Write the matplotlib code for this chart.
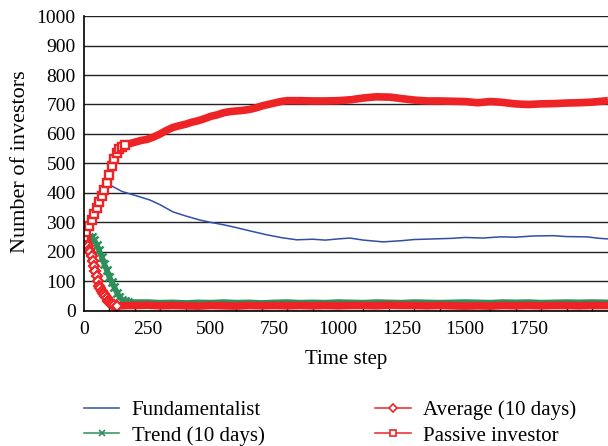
import matplotlib
matplotlib.use("Agg")
import matplotlib.pyplot as plt
from matplotlib.ticker import MultipleLocator, FixedLocator

plt.rcParams['font.family'] = ['Liberation Serif', 'DejaVu Serif']

# values
fund_t = [0, 50, 100, 150, 200, 260, 300, 350, 400, 457, 500, 550, 587, 650, 720, 780,
          838, 900, 950, 1000, 1047, 1100, 1178, 1250, 1300, 1375, 1450, 1500, 1570,
          1638, 1700, 1768, 1847, 1900, 1980, 2030, 2063]
fund_v = [250, 340, 428, 405, 392, 376, 360, 336, 322, 308, 300, 292, 285, 272, 258, 248,
          241, 243, 240, 244, 247, 240, 234, 238, 242, 244, 246, 249, 247,
          251, 250, 254, 255, 252, 251, 246, 244]

trend_t = [0, 10, 20, 30, 40, 50, 60, 70, 80, 90, 100, 110, 120, 130, 140, 150, 160,
           175, 200, 250, 300, 350, 400, 450, 500, 550, 600, 650, 700, 750, 800, 850,
           900, 950, 1000, 1050, 1100, 1150, 1200, 1250, 1300, 1350, 1400, 1450, 1500,
           1550, 1600, 1650, 1700, 1750, 1800, 1850, 1900, 1950, 2000, 2063]
trend_v = [250, 252, 252, 250, 240, 225, 205, 182, 160, 138, 115, 97, 80, 62, 48, 38, 33,
           30, 30, 30, 28, 29, 27, 29, 28, 30, 28, 29, 27, 29, 30, 28,
           29, 28, 30, 29, 28, 30, 29, 28, 30, 29, 28, 29, 30,
           29, 28, 30, 29, 30, 28, 29, 30, 29, 30, 29]

avg_t = [0, 5, 10, 15, 20, 25, 30, 35, 40, 45, 50, 55, 60, 65, 70, 75, 80, 85, 90, 95,
         100, 105, 110, 120, 130, 150, 175, 200, 250, 300, 350, 400, 450, 500, 550, 600,
         650, 700, 750, 800, 850, 900, 950, 1000, 1050, 1100, 1150, 1200, 1250, 1300,
         1350, 1400, 1450, 1500, 1550, 1600, 1650, 1700, 1750, 1800, 1850, 1900, 1950,
         2000, 2063]
avg_v = [250, 245, 232, 220, 208, 198, 185, 170, 152, 135, 117, 100, 86, 76, 68, 62, 56,
         50, 42, 35, 30, 25, 22, 19, 17, 17, 18, 18, 19, 17, 18, 17, 16, 18, 17, 16,
         18, 17, 18, 17, 18, 17, 18, 17, 18, 18, 17, 19, 18, 18,
         17, 18, 17, 16, 17, 16, 18, 17, 18, 17, 18, 18, 17,
         18, 18]

pass_t = [0, 10, 20, 30, 40, 50, 60, 70, 80, 90, 100, 110, 120, 130, 140, 150, 160, 175,
          200, 225, 250, 275, 300, 325, 350, 375, 400, 425, 450, 475, 500, 525, 550,
          575, 600, 625, 650, 675, 700, 725, 750, 775, 800, 850, 900, 950, 1000, 1050,
          1100, 1150, 1205, 1250, 1300, 1350, 1400, 1450, 1500, 1550, 1600, 1638, 1700,
          1750, 1795, 1850, 1900, 1950, 2000, 2063]
pass_v = [250, 268, 288, 308, 330, 350, 370, 390, 410, 435, 460, 490, 515, 535, 550, 557,
          562, 566, 572, 578, 582, 590, 600, 612, 622, 628, 633, 640, 645, 652, 660, 665,
          672, 676, 678, 680, 683, 688, 695, 700, 705, 710, 713, 713, 712, 712, 713, 716,
          722, 726, 725, 720, 715, 712, 712, 711, 710, 706, 710, 708, 702,
          700, 702, 703, 705, 706, 708, 713]

x_labels = [0, 250, 500, 750, 1000, 1250, 1500, 1750]

red = '#ee2326'
green = '#2e8f5a'
blue = '#2f4fa8'

fig = plt.figure(figsize=(6.08, 4.46), dpi=100)
ax = fig.add_axes([0.138, 0.303, 0.862, 0.661])

# horizontal grid
ax.set_ylim(0, 1000)
ax.set_xlim(0, 2063)
ax.yaxis.set_major_locator(MultipleLocator(100))
ax.grid(axis='y', color='#222222', lw=1.0)
ax.set_axisbelow(True)

ax.plot(fund_t, fund_v, color=blue, lw=1.1, zorder=3)

# trend: dense x markers
ax.plot(trend_t, trend_v, color=green, lw=4, zorder=4)
ax.plot(trend_t[:18], trend_v[:18], color=green, lw=0, marker='x',
        ms=6, mew=1.8, zorder=4)

# average: open diamonds early, thick band later
k = 24
ax.plot(avg_t[k:], avg_v[k:], color=red, lw=5.5, solid_capstyle='butt', zorder=5)
ax.plot(avg_t[:k + 1], avg_v[:k + 1], color=red, lw=1.5, marker='D', ms=5,
        mfc='white', mec=red, mew=1.6, zorder=5)

# passive investor: open squares early, thick band later
k = 16
ax.plot(pass_t[k:], pass_v[k:], color=red, lw=5.5, solid_capstyle='butt', zorder=6)
ax.plot(pass_t[:k + 1], pass_v[:k + 1], color=red, lw=1.5, marker='s', ms=5.5,
        mfc='white', mec=red, mew=1.7, zorder=6)

ax.xaxis.set_major_locator(FixedLocator(x_labels))
ax.xaxis.set_minor_locator(MultipleLocator(100))
ax.tick_params(axis='x', which='major', length=0, pad=7, labelsize=14)
ax.tick_params(axis='x', which='minor', direction='in', length=4, width=1, color='black')
ax.tick_params(axis='y', length=0, pad=6, labelsize=14)

for s in ['top', 'right']:
    ax.spines[s].set_visible(False)
for s in ['left', 'bottom']:
    ax.spines[s].set_color('black')
    ax.spines[s].set_linewidth(1.2)
    ax.spines[s].set_zorder(7)

ax.set_ylabel('Number of investors', fontsize=16)
ax.yaxis.set_label_coords(-0.103, 0.505)
ax.set_xlabel('Time step', fontsize=15, labelpad=9)

h1, = ax.plot([], [], color=blue, lw=1.1)
h2, = ax.plot([], [], color=green, lw=1.1, marker='x', ms=4, mew=1.2)
h3, = ax.plot([], [], color=red, lw=1.1, marker='D', ms=4.5, mfc='white', mew=1.2)
h4, = ax.plot([], [], color=red, lw=1.1, marker='s', ms=5, mfc='white', mew=1.2)
fig.legend([h1, h2, h3, h4],
           ['Fundamentalist', 'Trend (10 days)', 'Average (10 days)', 'Passive investor'],
           ncol=2, loc='upper left', bbox_to_anchor=(0.138, 0.103), frameon=False,
           fontsize=15, handlelength=1.7, handletextpad=0.6, columnspacing=5.3,
           labelspacing=0.3, borderpad=0, borderaxespad=0)

fig.savefig('out.png', dpi=100)
